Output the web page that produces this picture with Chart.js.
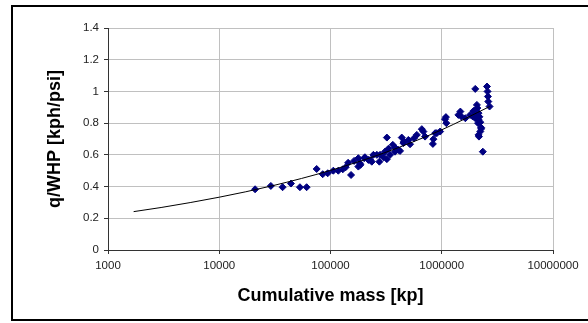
<!DOCTYPE html>
<html>
<head>
<meta charset="utf-8">
<script src="https://cdn.jsdelivr.net/npm/chart.js@4/dist/chart.umd.min.js"></script>
<style>
  body { margin: 0; background: #fff; overflow: hidden; }
  #wrap { position: relative; width: 588px; height: 323px; }
  #frame {
    position: absolute; left: 11px; top: 5px; width: 600px; height: 316px;
    box-sizing: border-box; border: 2px solid #000; border-right: none;
    pointer-events: none;
  }
</style>
</head>
<body>
<div id="wrap">
  <canvas id="chart" width="588" height="323"></canvas>
  <div id="frame"></div>
</div>
<script>
// measured points: cumulative mass [kp] and q/WHP [kph/psi]
var massKp = [21000, 29100, 37100, 44100, 53100, 61000, 75100, 85100, 94400, 106000,
  117500, 129000, 137000, 144000, 153000, 163000, 178000, 184000, 204000, 219000,
  235000, 261000, 275000, 299000, 321000, 343000, 380000, 422000, 178000, 186000,
  201000, 227000, 243000, 279000, 309000, 321000, 331000, 363000, 380000, 408000,
  437000, 452000, 501000, 519000, 563000, 597000, 662000, 684000, 1070000, 1100000,
  1410000, 457000, 708000, 842000, 903000, 967000, 832000, 873000, 1090000, 1470000,
  1500000, 1630000, 1800000, 1930000, 2000000, 2070000, 2090000, 2140000, 2000000, 2140000,
  2120000, 2220000, 2260000, 2220000, 2160000, 2140000, 2340000, 2260000, 2550000, 2580000,
  2600000, 2620000, 2690000, 1900000, 2050000, 2180000];
var qWhp = [0.383, 0.404, 0.396, 0.419, 0.396, 0.396, 0.511, 0.478, 0.484, 0.50,
  0.50, 0.509, 0.522, 0.55, 0.473, 0.562, 0.526, 0.547, 0.585, 0.568,
  0.557, 0.60, 0.557, 0.585, 0.573, 0.60, 0.62, 0.625, 0.579, 0.537,
  0.579, 0.568, 0.60, 0.60, 0.62, 0.709, 0.638, 0.663, 0.646, 0.631,
  0.709, 0.674, 0.694, 0.667, 0.705, 0.726, 0.762, 0.747, 0.825, 0.80,
  0.852, 0.684, 0.715, 0.699, 0.737, 0.747, 0.669, 0.737, 0.838, 0.873,
  0.842, 0.831, 0.852, 0.877, 1.016, 0.915, 0.895, 0.863, 0.831, 0.821,
  0.80, 0.806, 0.772, 0.747, 0.715, 0.726, 0.62, 0.764, 1.031, 1.0,
  0.968, 0.936, 0.905, 0.842, 0.85, 0.84];

// trend line
var trendMass = [1700, 3000, 10000, 30000, 100000, 300000, 1000000, 2700000];
var trendQ = [0.242, 0.268, 0.333, 0.405, 0.502, 0.611, 0.758, 0.905];

var xTicks = [1000, 10000, 100000, 1000000, 10000000];
var yTicks = [0, 0.2, 0.4, 0.6, 0.8, 1, 1.2, 1.4];

var pts = massKp.map(function (m, i) { return { x: m, y: qWhp[i] }; });
var trend = trendMass.map(function (m, i) { return { x: m, y: trendQ[i] }; });

var tickFont = { family: "'Liberation Sans', Arial, sans-serif", size: 11.5 };
var titleFont = { family: "'Liberation Sans', Arial, sans-serif", size: 18, weight: 'bold' };

new Chart(document.getElementById('chart'), {
  type: 'scatter',
  data: {
    datasets: [{
      label: 'trend',
      data: trend,
      showLine: true,
      borderColor: '#000',
      borderWidth: 1,
      pointRadius: 0,
      tension: 0.4,
      cubicInterpolationMode: 'monotone',
      order: 0
    }, {
      label: 'q/WHP',
      data: pts,
      pointStyle: 'rectRot',
      pointRadius: 3.5,
      backgroundColor: '#000080',
      borderColor: '#000080',
      borderWidth: 1,
      order: 1
    }]
  },
  options: {
    responsive: false,
    animation: false,
    layout: { padding: { left: 0, right: 35, top: 28, bottom: 0 } },
    plugins: { legend: { display: false }, tooltip: { enabled: false } },
    scales: {
      x: {
        type: 'logarithmic',
        min: 1000,
        max: 10000000,
        afterBuildTicks: function (s) { s.ticks = xTicks.map(function (v) { return { value: v }; }); },
        afterFit: function (s) { s.height = 73; },
        ticks: { font: tickFont, color: '#222', padding: 5, maxRotation: 0,
          callback: function (v) { return String(v); } },
        grid: { color: '#c0c0c0', lineWidth: 1, tickLength: 4, tickColor: '#333' },
        border: { color: '#333', width: 1 },
        title: { display: true, text: 'Cumulative mass [kp]', font: titleFont, color: '#000',
          padding: { top: 0, bottom: 16 } }
      },
      y: {
        min: 0,
        max: 1.4,
        afterBuildTicks: function (s) { s.ticks = yTicks.map(function (v) { return { value: v }; }); },
        afterFit: function (s) { s.width = 108; },
        ticks: { font: tickFont, color: '#222', padding: 5,
          callback: function (v) { return String(v); } },
        grid: { color: '#c0c0c0', lineWidth: 1, tickLength: 4, tickColor: '#333' },
        border: { color: '#333', width: 1 },
        title: { display: true, text: 'q/WHP [kph/psi]', font: titleFont, color: '#000',
          padding: { top: 44, bottom: 0 } }
      }
    }
  }
});
</script>
</body>
</html>
